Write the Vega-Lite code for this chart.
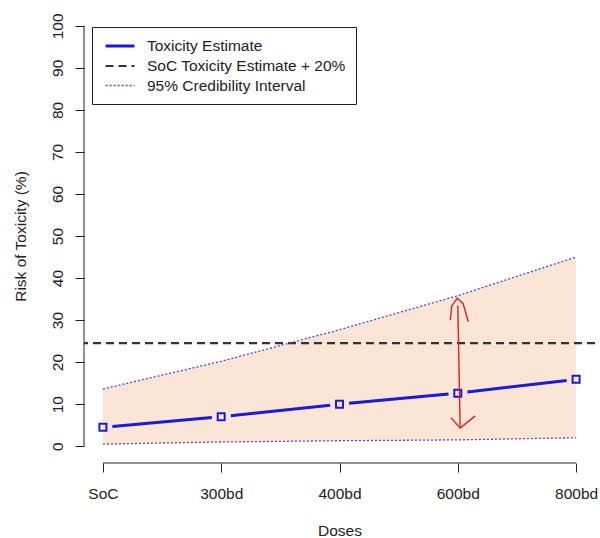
{
  "$schema": "https://vega.github.io/schema/vega-lite/v6.json",
  "width": 511,
  "height": 454,
  "autosize": {"type": "none"},
  "padding": {"left": 84, "top": 9, "right": 5, "bottom": 75},
  "background": "white",
  "config": {
    "view": {"stroke": null},
    "font": "Liberation Sans",
    "axis": {
      "grid": false,
      "domain": false,
      "tickColor": "#222222",
      "tickSize": 9,
      "labelColor": "#222222",
      "titleColor": "#222222",
      "labelFontSize": 15.5,
      "titleFontSize": 15.5,
      "titleFontWeight": "normal"
    },
    "legend": {
      "labelFontSize": 15.5,
      "labelColor": "#222222",
      "labelLimit": 400
    }
  },
  "datasets": {
    "est": [
      {"dose": 0, "risk": 4.5, "series": "Toxicity Estimate"},
      {"dose": 1, "risk": 7.0, "series": "Toxicity Estimate"},
      {"dose": 2, "risk": 10.0, "series": "Toxicity Estimate"},
      {"dose": 3, "risk": 12.6, "series": "Toxicity Estimate"},
      {"dose": 4, "risk": 15.9, "series": "Toxicity Estimate"}
    ],
    "ci": [
      {"dose": 0, "lower": 0.5, "upper": 13.6, "series": "95% Credibility Interval"},
      {"dose": 1, "lower": 1.0, "upper": 20.2, "series": "95% Credibility Interval"},
      {"dose": 2, "lower": 1.3, "upper": 27.7, "series": "95% Credibility Interval"},
      {"dose": 3, "lower": 1.5, "upper": 35.8, "series": "95% Credibility Interval"},
      {"dose": 4, "lower": 2.0, "upper": 45.0, "series": "95% Credibility Interval"}
    ],
    "soc": [
      {"risk": 24.5, "series": "SoC Toxicity Estimate + 20%"}
    ],
    "arrow": [
      {"seg": "shaft", "k": 0, "dose": 3.0, "risk": 33.5},
      {"seg": "shaft", "k": 1, "dose": 3.02, "risk": 4.6},
      {"seg": "top", "k": 0, "dose": 2.937, "risk": 30.0},
      {"seg": "top", "k": 1, "dose": 2.949, "risk": 33.3},
      {"seg": "top", "k": 2, "dose": 2.995, "risk": 35.2},
      {"seg": "top", "k": 3, "dose": 3.045, "risk": 33.9},
      {"seg": "top", "k": 4, "dose": 3.089, "risk": 29.6},
      {"seg": "bottom", "k": 0, "dose": 2.943, "risk": 6.8},
      {"seg": "bottom", "k": 1, "dose": 3.02, "risk": 4.3},
      {"seg": "bottom", "k": 2, "dose": 3.148, "risk": 7.2}
    ]
  },
  "layer": [
    {
      "data": {"name": "ci"},
      "mark": {"type": "area", "color": "#fbe5d6", "opacity": 1},
      "encoding": {
        "x": {
          "field": "dose",
          "type": "quantitative",
          "scale": {"domain": [-0.16, 4.16], "nice": false, "zero": false},
          "axis": {
            "values": [0, 1, 2, 3, 4],
            "labelExpr": "['SoC','300bd','400bd','600bd','800bd'][datum.value]",
            "labelBaseline": "alphabetic",
            "labelPadding": 26,
            "title": "Doses",
            "titlePadding": 22
          }
        },
        "y": {
          "field": "lower",
          "type": "quantitative",
          "scale": {"domain": [-4, 104], "nice": false, "zero": false},
          "axis": {
            "values": [0, 10, 20, 30, 40, 50, 60, 70, 80, 90, 100],
            "labelAngle": -90,
            "labelAlign": "center",
            "labelBaseline": "alphabetic",
            "labelPadding": 13,
            "title": "Risk of Toxicity (%)",
            "titlePadding": 22
          }
        },
        "y2": {"field": "upper"}
      }
    },
    {
      "data": {"name": "soc"},
      "mark": {"type": "rule"},
      "encoding": {
        "y": {"field": "risk", "type": "quantitative"},
        "color": {"field": "series", "type": "nominal"},
        "strokeDash": {"field": "series", "type": "nominal"},
        "strokeWidth": {"field": "series", "type": "nominal"}
      }
    },
    {
      "data": {"name": "ci"},
      "transform": [{"fold": ["lower", "upper"], "as": ["bound", "risk"]}],
      "mark": {"type": "line"},
      "encoding": {
        "x": {"field": "dose", "type": "quantitative"},
        "y": {"field": "risk", "type": "quantitative"},
        "detail": {"field": "bound"},
        "color": {
          "field": "series",
          "type": "nominal",
          "scale": {
            "domain": ["Toxicity Estimate", "SoC Toxicity Estimate + 20%", "95% Credibility Interval"],
            "range": ["#1a1ad9", "#333333", "#4a4ad6"]
          },
          "legend": {
            "title": null,
            "orient": "none",
            "legendX": 8,
            "legendY": 18,
            "padding": 10,
            "rowPadding": 2,
            "labelOffset": 18,
            "symbolSize": 225,
            "symbolOffset": 9,
            "symbolType": "M-1.93,0H1.93",
            "strokeColor": "#222222",
            "fillColor": "white",
            "cornerRadius": 0
          }
        },
        "strokeDash": {
          "field": "series",
          "type": "nominal",
          "scale": {
            "domain": ["Toxicity Estimate", "SoC Toxicity Estimate + 20%", "95% Credibility Interval"],
            "range": [[1, 0], [8, 5], [2, 2]]
          }
        },
        "strokeWidth": {
          "field": "series",
          "type": "nominal",
          "scale": {
            "domain": ["Toxicity Estimate", "SoC Toxicity Estimate + 20%", "95% Credibility Interval"],
            "range": [3, 1.3, 1.6]
          }
        }
      }
    },
    {
      "data": {"name": "est"},
      "mark": {"type": "line", "color": "#1a1ad9", "strokeWidth": 3, "strokeDash": [99.9, 19], "strokeDashOffset": 109.4, "strokeCap": "butt"},
      "encoding": {
        "x": {"field": "dose", "type": "quantitative"},
        "y": {"field": "risk", "type": "quantitative"}
      }
    },
    {
      "data": {"name": "est"},
      "mark": {"type": "point", "shape": "square", "filled": false, "size": 49, "color": "#1a1ad9", "opacity": 1, "strokeWidth": 2},
      "encoding": {
        "x": {"field": "dose", "type": "quantitative"},
        "y": {"field": "risk", "type": "quantitative"}
      }
    },
    {
      "data": {"name": "arrow"},
      "mark": {"type": "line", "color": "#e0201c", "strokeWidth": 1.4},
      "encoding": {
        "x": {"field": "dose", "type": "quantitative"},
        "y": {"field": "risk", "type": "quantitative"},
        "detail": {"field": "seg"},
        "order": {"field": "k"}
      }
    },
    {
      "data": {"values": [{}]},
      "mark": {"type": "rule", "color": "#222222", "strokeWidth": 1},
      "encoding": {
        "x": {"datum": -0.16},
        "y": {"datum": 0},
        "y2": {"datum": 100}
      }
    },
    {
      "data": {"values": [{}]},
      "mark": {"type": "rule", "color": "#222222", "strokeWidth": 1},
      "encoding": {
        "x": {"datum": 0},
        "x2": {"datum": 4},
        "y": {"datum": -4}
      }
    }
  ]
}
